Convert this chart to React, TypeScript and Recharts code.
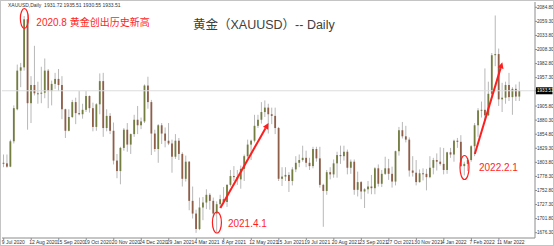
import { ComposedChart, Bar, XAxis, YAxis, ReferenceLine, ReferenceDot } from 'recharts';

// one bar = three trading sessions, keyed by the first session's date
const days = [
  '2020-07-09', '2020-07-14', '2020-07-17', '2020-07-22', '2020-07-27', '2020-07-30', '2020-08-04', '2020-08-07', '2020-08-12', '2020-08-17',
  '2020-08-20', '2020-08-25', '2020-08-28', '2020-09-02', '2020-09-07', '2020-09-10', '2020-09-15', '2020-09-18', '2020-09-23', '2020-09-28',
  '2020-10-01', '2020-10-06', '2020-10-09', '2020-10-14', '2020-10-19', '2020-10-22', '2020-10-27', '2020-10-30', '2020-11-04', '2020-11-09',
  '2020-11-12', '2020-11-17', '2020-11-20', '2020-11-25', '2020-11-30', '2020-12-03', '2020-12-08', '2020-12-11', '2020-12-16', '2020-12-21',
  '2020-12-24', '2020-12-30', '2021-01-05', '2021-01-08', '2021-01-13', '2021-01-18', '2021-01-21', '2021-01-26', '2021-01-29', '2021-02-03',
  '2021-02-08', '2021-02-11', '2021-02-16', '2021-02-19', '2021-02-24', '2021-03-01', '2021-03-04', '2021-03-09', '2021-03-12', '2021-03-17',
  '2021-03-22', '2021-03-25', '2021-03-30', '2021-04-05', '2021-04-08', '2021-04-13', '2021-04-16', '2021-04-21', '2021-04-26', '2021-04-29',
  '2021-05-04', '2021-05-07', '2021-05-12', '2021-05-17', '2021-05-20', '2021-05-25', '2021-05-28', '2021-06-02', '2021-06-07', '2021-06-10',
  '2021-06-15', '2021-06-18', '2021-06-23', '2021-06-28', '2021-07-01', '2021-07-06', '2021-07-09', '2021-07-14', '2021-07-19', '2021-07-22',
  '2021-07-27', '2021-07-30', '2021-08-04', '2021-08-09', '2021-08-12', '2021-08-17', '2021-08-20', '2021-08-25', '2021-08-30', '2021-09-02',
  '2021-09-07', '2021-09-10', '2021-09-15', '2021-09-20', '2021-09-23', '2021-09-28', '2021-10-01', '2021-10-06', '2021-10-11', '2021-10-14',
  '2021-10-19', '2021-10-22', '2021-10-27', '2021-11-01', '2021-11-04', '2021-11-09', '2021-11-12', '2021-11-17', '2021-11-22', '2021-11-25',
  '2021-11-30', '2021-12-03', '2021-12-08', '2021-12-13', '2021-12-16', '2021-12-21', '2021-12-27', '2021-12-30', '2022-01-04', '2022-01-07',
  '2022-01-12', '2022-01-17', '2022-01-20', '2022-01-25', '2022-01-28', '2022-02-02', '2022-02-07', '2022-02-10', '2022-02-15', '2022-02-18',
  '2022-02-23', '2022-02-28', '2022-03-03', '2022-03-08', '2022-03-11', '2022-03-16', '2022-03-21', '2022-03-24', '2022-03-29', '2022-04-01',
  '2022-04-06',
  // empty slots (chart shift on the right)
  '2022-04-11', '2022-04-14', '2022-04-19', '2022-04-22',
];

const opens = [
  1803, 1802, 1796, 1842, 1900, 1970, 1976, 2063, 1911, 1944,
  1929, 1929, 1930, 1970, 1933, 1946, 1955, 1944, 1900, 1861,
  1886, 1913, 1893, 1891, 1899, 1924, 1902, 1868, 1909, 1951,
  1866, 1888, 1861, 1807, 1788, 1830, 1863, 1836, 1855, 1881,
  1871, 1878, 1943, 1913, 1856, 1828, 1871, 1856, 1843, 1838,
  1814, 1843, 1819, 1774, 1805, 1734, 1711, 1683, 1722, 1731,
  1745, 1734, 1711, 1728, 1737, 1732, 1763, 1779, 1777, 1773,
  1792, 1815, 1836, 1843, 1870, 1881, 1895, 1903, 1891, 1888,
  1866, 1774, 1778, 1781, 1770, 1791, 1803, 1808, 1812, 1803,
  1797, 1828, 1811, 1763, 1752, 1786, 1782, 1802, 1817, 1815,
  1823, 1794, 1805, 1754, 1768, 1751, 1755, 1760, 1757, 1793,
  1765, 1783, 1793, 1783, 1769, 1824, 1862, 1851, 1845, 1789,
  1785, 1768, 1784, 1783, 1777, 1794, 1808, 1805, 1801, 1790,
  1822, 1818, 1843, 1841, 1797, 1801, 1808, 1833, 1871, 1898,
  1899, 1889, 1928, 1998, 2000, 1918, 1921, 1944, 1922, 1937,
  1923,
];

const highs = [
  1818, 1818, 1845, 1907, 1981, 1984, 2069, 2075, 1960, 2015,
  1950, 1977, 1992, 1973, 1952, 1966, 1973, 1960, 1901, 1900,
  1917, 1921, 1933, 1910, 1933, 1925, 1912, 1911, 1965, 1966,
  1900, 1893, 1876, 1819, 1832, 1866, 1875, 1856, 1890, 1906,
  1885, 1945, 1959, 1917, 1863, 1873, 1875, 1867, 1875, 1845,
  1855, 1848, 1822, 1816, 1806, 1760, 1718, 1740, 1741, 1755,
  1748, 1740, 1733, 1745, 1759, 1764, 1790, 1797, 1790, 1798,
  1818, 1845, 1845, 1890, 1890, 1913, 1916, 1910, 1903, 1903,
  1868, 1795, 1795, 1786, 1795, 1815, 1818, 1834, 1825, 1812,
  1832, 1832, 1832, 1765, 1790, 1795, 1809, 1823, 1834, 1834,
  1827, 1809, 1809, 1787, 1770, 1757, 1770, 1781, 1795, 1800,
  1790, 1814, 1810, 1796, 1825, 1868, 1877, 1870, 1849, 1815,
  1808, 1791, 1793, 1792, 1815, 1812, 1820, 1831, 1830, 1823,
  1830, 1845, 1848, 1853, 1805, 1812, 1835, 1875, 1902, 1914,
  1974, 1950, 2002, 2070, 2010, 1948, 1950, 1966, 1940, 1945,
  1950,
];

const lows = [
  1795, 1794, 1795, 1838, 1898, 1940, 1970, 1863, 1875, 1925,
  1910, 1911, 1920, 1902, 1907, 1937, 1933, 1882, 1848, 1860,
  1884, 1873, 1889, 1883, 1895, 1894, 1860, 1861, 1891, 1850,
  1860, 1855, 1800, 1775, 1764, 1825, 1823, 1819, 1850, 1855,
  1864, 1875, 1901, 1817, 1823, 1803, 1837, 1831, 1835, 1785,
  1810, 1808, 1760, 1769, 1717, 1702, 1676, 1681, 1699, 1719,
  1718, 1705, 1677, 1721, 1728, 1723, 1760, 1770, 1763, 1756,
  1770, 1812, 1808, 1840, 1866, 1874, 1886, 1856, 1873, 1855,
  1770, 1761, 1770, 1750, 1762, 1786, 1795, 1805, 1795, 1790,
  1793, 1805, 1758, 1687, 1745, 1773, 1776, 1776, 1801, 1807,
  1782, 1783, 1745, 1742, 1737, 1721, 1747, 1746, 1746, 1760,
  1759, 1781, 1772, 1758, 1762, 1816, 1847, 1840, 1778, 1778,
  1762, 1767, 1771, 1753, 1775, 1782, 1789, 1798, 1782, 1783,
  1812, 1805, 1830, 1795, 1780, 1788, 1805, 1815, 1850, 1885,
  1878, 1888, 1920, 1978, 1906, 1895, 1910, 1915, 1890, 1915,
  1915,
];

const closes = [
  1802, 1796, 1842, 1902, 1970, 1976, 2063, 1911, 1944, 1929,
  1929, 1930, 1970, 1933, 1946, 1955, 1944, 1900, 1861, 1886,
  1913, 1893, 1891, 1899, 1924, 1902, 1868, 1909, 1951, 1866,
  1888, 1861, 1807, 1788, 1830, 1863, 1836, 1855, 1881, 1871,
  1878, 1943, 1913, 1856, 1828, 1871, 1856, 1843, 1838, 1814,
  1843, 1819, 1774, 1805, 1734, 1711, 1683, 1722, 1731, 1745,
  1734, 1711, 1728, 1737, 1732, 1763, 1779, 1777, 1773, 1792,
  1815, 1836, 1843, 1870, 1881, 1895, 1903, 1891, 1888, 1866,
  1774, 1778, 1781, 1770, 1791, 1803, 1808, 1812, 1803, 1797,
  1828, 1811, 1763, 1752, 1786, 1782, 1802, 1817, 1815, 1823,
  1794, 1805, 1754, 1768, 1751, 1755, 1760, 1757, 1793, 1765,
  1783, 1793, 1783, 1769, 1824, 1862, 1851, 1845, 1789, 1785,
  1768, 1784, 1783, 1777, 1794, 1808, 1805, 1801, 1790, 1822,
  1818, 1843, 1841, 1797, 1801, 1808, 1833, 1871, 1898, 1899,
  1889, 1928, 1998, 2000, 1918, 1921, 1944, 1922, 1937, 1923,
  1933.51,
];

const lastPrice = 1933.51;
const priceTicks = [
  2084.8, 2059.3, 2033.8, 2008.3, 1982.8, 1957.3, lastPrice, 1905.8, 1880.3,
  1854.8, 1829.3, 1803.8, 1778.3, 1752.8, 1727.3, 1701.8, 1676.3,
];
const header = 'XAUUSD,Daily  1931.72 1935.51 1930.55 1933.51';
const title = '黄金（XAUUSD）-- Daily';

// circled lows/highs with their captions
const noteDays = ['2020-08-04', '2021-03-30', '2022-01-28'];
const notePrices = [2064.5, 1694.8, 1794.5];
const noteTexts = ['2020.8 黄金创出历史新高', '2021.4.1', '2022.2.1'];

// trend arrows
const arrowFromDays = ['2021-04-05', '2022-02-10'];
const arrowFromPrices = [1721, 1819];
const arrowToDays = ['2021-06-02', '2022-03-16'];
const arrowToPrices = [1875, 1985];

const W = 554;
const H = 246;
const UP = '#737d40';
const DOWN = '#8f5e49';
const WICK = '#b8b8b8';
const RED = '#ff1e1e';
const AXIS = '#8c8c8c';
const FONT = '"Liberation Sans", Arial, "Noto Sans CJK SC", sans-serif';
const MONTHS = ['Jan', 'Feb', 'Mar', 'Apr', 'May', 'Jun', 'Jul', 'Aug', 'Sep', 'Oct', 'Nov', 'Dec'];

// ellipse size and caption offset per note
const NOTE_STYLE = [
  { rx: 4, ry: 10, dx: 12, dy: 3.5 },
  { rx: 4.5, ry: 10.5, dx: 11, dy: 0.5 },
  { rx: 4.5, ry: 12, dx: 14.5, dy: 0 },
];

const rows = days.map((day, i) =>
  i < closes.length
    ? { day, o: opens[i], h: highs[i], l: lows[i], c: closes[i], range: [lows[i], highs[i]] }
    : { day },
);

// date label every 8 bars (24 sessions), like the terminal does
const labelled = new Set(days.filter((_, i) => i % 8 === 0 && i < closes.length));

const fmtDay = (d: string) => {
  const [y, m, dd] = d.split('-');
  return `${+dd} ${MONTHS[+m - 1]} ${y}`;
};

function Candle(props: any) {
  const { x, y, width, height, payload } = props;
  if (payload.o == null) return <g />;
  const { o, h, l, c } = payload;
  const k = h > l ? height / (h - l) : 0;
  const cx = x + width / 2;
  const yo = y + (h - o) * k;
  const yc = y + (h - c) * k;
  return (
    <g>
      <line x1={cx} x2={cx} y1={y} y2={y + height} stroke={WICK} strokeWidth={1} />
      <rect
        x={cx - 0.9}
        y={Math.min(yo, yc)}
        width={1.8}
        height={Math.max(1, Math.abs(yo - yc))}
        fill={c >= o ? UP : DOWN}
      />
    </g>
  );
}

function DayTick(props: any) {
  const { x, y, payload } = props;
  if (!labelled.has(payload.value)) return <g />;
  return (
    <g>
      <line x1={x} x2={x} y1={y} y2={y + 2} stroke={AXIS} />
      <text x={x - 2} y={y + 6.3} fontSize={5} fill="#333" fontFamily={FONT}>
        {fmtDay(payload.value)}
      </text>
    </g>
  );
}

function PriceTick(props: any) {
  const { x, y, payload } = props;
  const v = payload.value as number;
  const last = v === lastPrice;
  return (
    <g>
      <line x1={x} x2={x + 2} y1={y} y2={y} stroke={AXIS} />
      {last && <rect x={x + 1} y={y - 3.5} width={16.5} height={7} fill="#000" />}
      <text x={x + 2} y={y + 1.7} fontSize={4.6} fill={last ? '#fff' : '#333'} fontFamily={FONT}>
        {v.toFixed(2)}
      </text>
    </g>
  );
}

function Note(props: any) {
  const { cx, cy, i } = props;
  const s = NOTE_STYLE[i];
  return (
    <g>
      <ellipse cx={cx} cy={cy} rx={s.rx} ry={s.ry} fill="none" stroke={RED} strokeWidth={1.2} />
      <text x={cx + s.dx} y={cy + s.dy} dy="0.36em" fontSize={10} fill={RED} fontFamily={FONT}>
        {noteTexts[i]}
      </text>
    </g>
  );
}

function Arrow(props: any) {
  const { x1, y1, x2, y2 } = props;
  const a = Math.atan2(y2 - y1, x2 - x1);
  const len = 6;
  const half = 3;
  const bx = x2 - len * Math.cos(a);
  const by = y2 - len * Math.sin(a);
  const px = -Math.sin(a) * half;
  const py = Math.cos(a) * half;
  return (
    <g>
      <line x1={x1} y1={y1} x2={bx} y2={by} stroke={RED} strokeWidth={2} />
      <polygon points={`${x2},${y2} ${bx + px},${by + py} ${bx - px},${by - py}`} fill={RED} />
    </g>
  );
}

export default function App() {
  return (
    <div style={{ position: 'relative', width: W, height: H, background: '#fff', overflow: 'hidden' }}>
      <style>{'body{margin:0}'}</style>
      <ComposedChart
        width={W}
        height={H}
        data={rows}
        margin={{ top: 2, right: 0, bottom: 0, left: 2 }}
        barCategoryGap={0}
      >
        <XAxis
          dataKey="day"
          interval={0}
          height={8}
          tick={(p: any) => <DayTick {...p} />}
          tickLine={false}
          tickSize={0}
          tickMargin={0}
          axisLine={{ stroke: AXIS }}
        />
        <YAxis
          orientation="right"
          type="number"
          domain={[1666.7, 2094.4]}
          allowDataOverflow
          ticks={priceTicks}
          interval={0}
          width={19}
          tick={(p: any) => <PriceTick {...p} />}
          tickLine={false}
          tickSize={0}
          tickMargin={0}
          axisLine={{ stroke: AXIS }}
        />
        <ReferenceLine y={lastPrice} stroke="#dcdcdc" strokeWidth={1} />
        <Bar dataKey="range" shape={(p: any) => <Candle {...p} />} isAnimationActive={false} />
        {arrowFromDays.map((d, i) => (
          <ReferenceLine
            key={d}
            segment={[
              { x: d, y: arrowFromPrices[i] },
              { x: arrowToDays[i], y: arrowToPrices[i] },
            ]}
            shape={(p: any) => <Arrow {...p} />}
          />
        ))}
        {noteDays.map((d, i) => (
          <ReferenceDot key={d} x={d} y={notePrices[i]} r={4} shape={(p: any) => <Note {...p} i={i} />} />
        ))}
      </ComposedChart>
      <div
        style={{
          position: 'absolute', left: 8, top: 2, fontSize: 5, lineHeight: '6px',
          color: '#333', fontFamily: FONT, whiteSpace: 'pre',
        }}
      >
        {header}
      </div>
      <div
        style={{
          position: 'absolute', left: 193, top: 18, fontSize: 12.5, lineHeight: '15px',
          color: '#404040', fontFamily: FONT, whiteSpace: 'nowrap',
        }}
      >
        {title}
      </div>
      <div
        style={{
          position: 'absolute', left: 0, top: 0, width: W, height: H, boxSizing: 'border-box',
          border: '1px solid #c4c4c4', pointerEvents: 'none',
        }}
      />
    </div>
  );
}
